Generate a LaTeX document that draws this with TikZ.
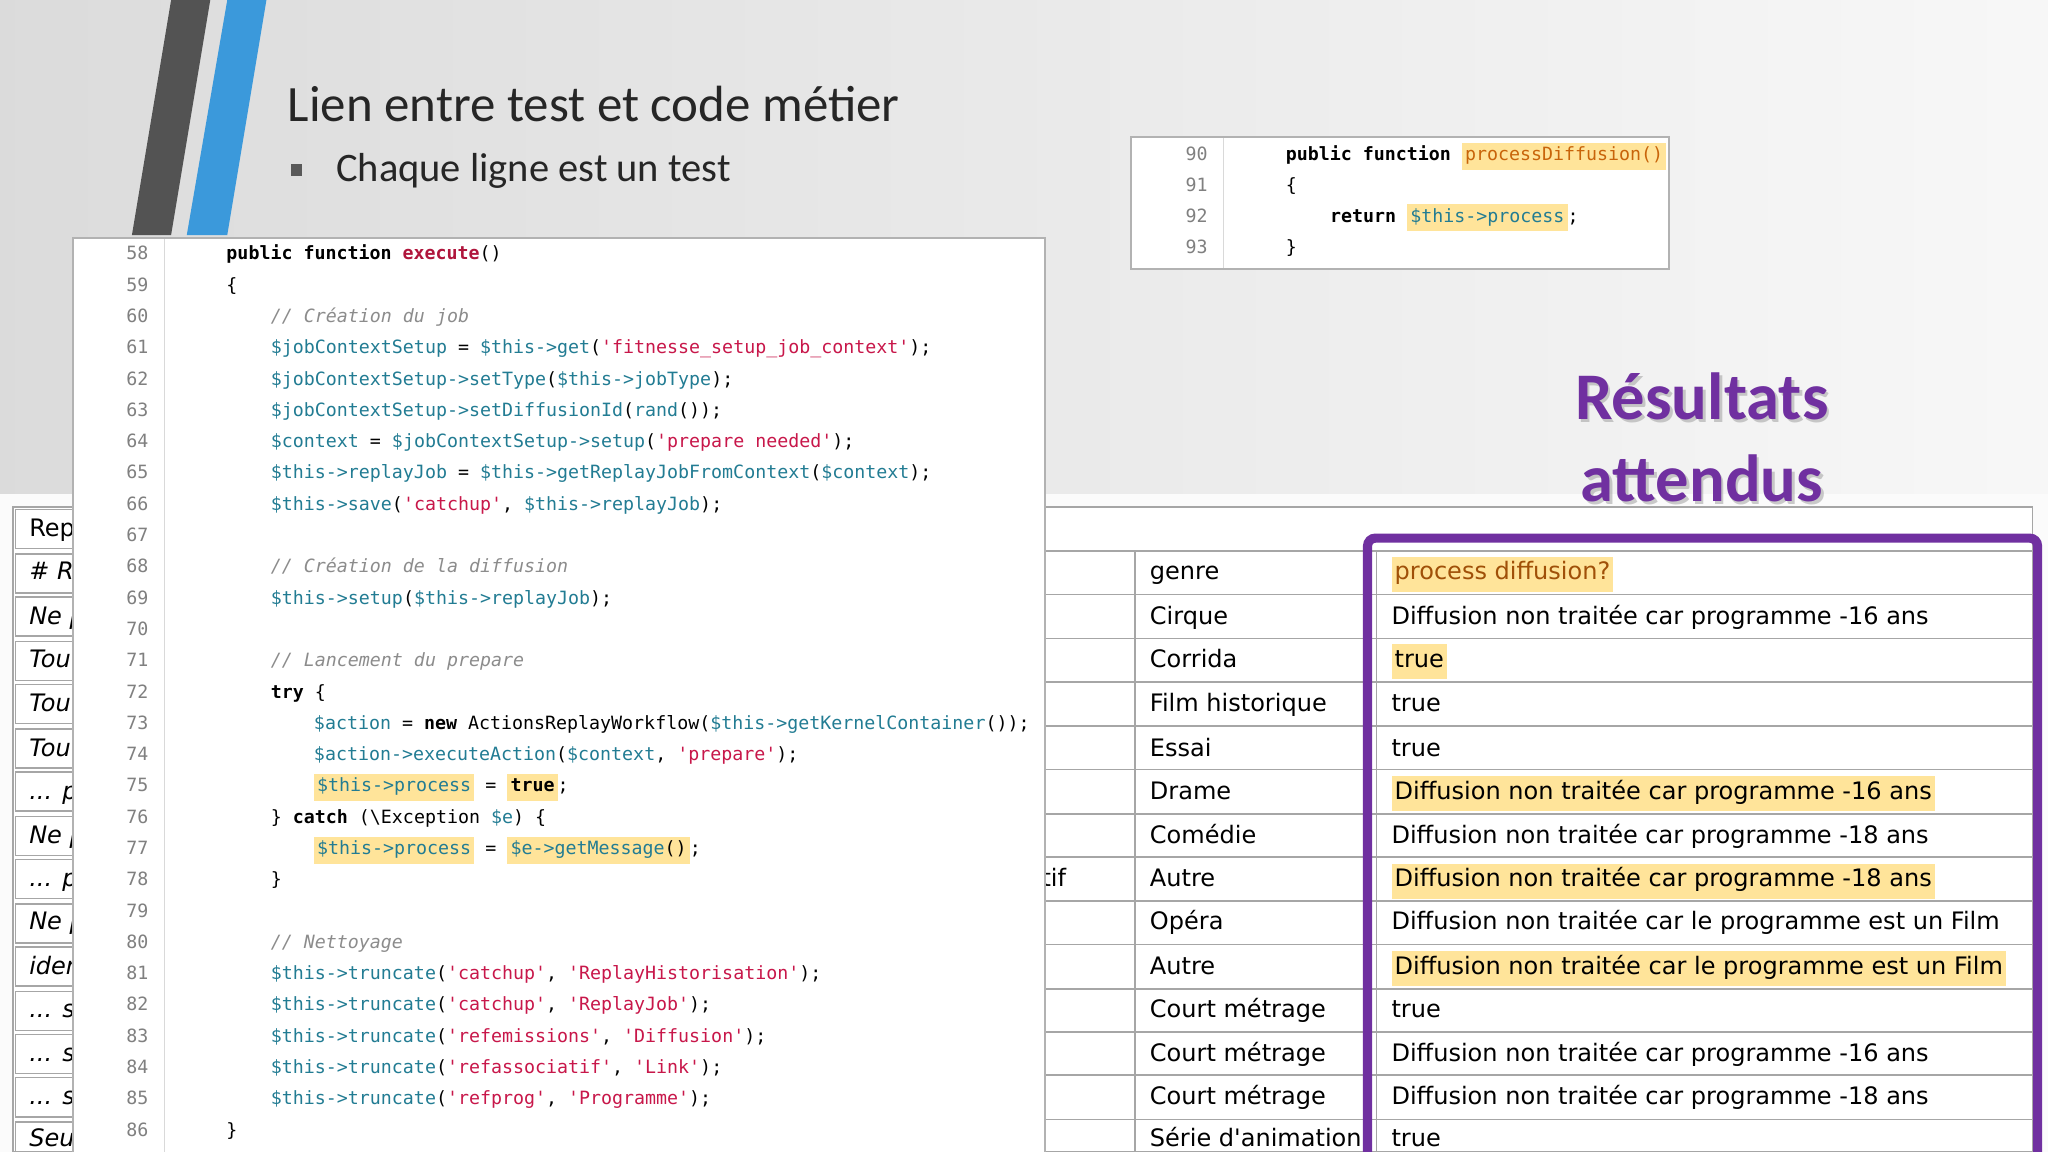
\documentclass[tikz,border=0pt]{standalone}
\usepackage{fontspec}
\setmainfont{DejaVu Sans}
\newfontfamily\codefont[Ligatures=TeXOff]{DejaVu Sans Mono}
\newfontfamily\slidefont{Carlito}
\newfontfamily\tabfont[Ligatures=TeXOff]{DejaVu Sans}
\definecolor{tealc}{HTML}{227C93}
\definecolor{strc}{HTML}{C8174A}
\definecolor{cmc}{HTML}{8C8C8C}
\definecolor{fnc}{HTML}{B0153C}
\definecolor{hly}{HTML}{FFE49A}
\definecolor{purp}{HTML}{7030A0}
\definecolor{orc}{HTML}{C8640A}
\newcommand\myvar[1]{\textcolor{tealc}{#1}}
\newcommand\mystr[1]{\textcolor{strc}{#1}}
\newcommand\mycmt[1]{\textcolor{cmc}{\itshape #1}}
\newcommand\mykw[1]{\textbf{#1}}
\newcommand\myhl[1]{{\setlength{\fboxsep}{1.2pt}\colorbox{hly}{\strut #1}}}
\newcommand\mycy[1]{199+(#1-58)*23.96}
\tikzset{
 codeln/.style={anchor=base west,inner sep=0pt,font=\codefont\fontsize{7}{8}\selectfont},
 lnum/.style={anchor=base east,inner sep=0pt,text=gray,font=\codefont\fontsize{7}{8}\selectfont},
 cell/.style={anchor=base west,inner sep=0pt,font=\tabfont\fontsize{9.2}{11}\selectfont},
 lcell/.style={anchor=base west,inner sep=0pt,font=\tabfont\itshape\fontsize{9.2}{11}\selectfont},
 grid/.style={draw=gray!70,line width=0.6pt},
}
\begin{document}
\begin{tikzpicture}[x=0.5pt,y=-0.5pt]
\useasboundingbox (0,0) rectangle (1568,882);
\shade[left color=gray!28,right color=gray!6] (0,0) rectangle (1568,378);
\fill[white!97!gray] (0,378) rectangle (1568,882);
\fill[gray!20!black!75] (131,0) -- (161,0) -- (131,180) -- (101,180) -- cycle;
\fill[cyan!70!blue!80] (174,0) -- (204,0) -- (174,180) -- (143,180) -- cycle;
\node[anchor=west,inner sep=0pt,font=\slidefont\fontsize{19.5}{22}\selectfont,text=black!85] (title) at (220,80) {Lien entre test et code métier};
\node[fill=gray!70!black,minimum size=4.5pt,inner sep=0pt] (bul) at (227,130) {};
\node[anchor=west,inner sep=0pt,font=\slidefont\fontsize{15.5}{17}\selectfont,text=black!85] (sub) at (257,131) {Chaque ligne est un test};
\node[align=center,font=\slidefont\bfseries\fontsize{25.5}{31.5}\selectfont,text=black!40,opacity=0.5] (resS) at (1305,337) {Résultats\\attendus};
\node[align=center,font=\slidefont\bfseries\fontsize{25.5}{31.5}\selectfont,text=purp] (res) at (1303,335) {Résultats\\attendus};
\draw[grid,fill=white] (10,388) rectangle (1556,882);
\draw[grid] (800,422) -- (1556,422);
\foreach \y in {455,489,522,556,589,623,656,690,723,757,790,823,857}{\draw[grid] (800,\y) -- (1556,\y);}
\draw[grid] (869,422) -- (869,882);
\draw[grid] (1054,422) -- (1054,882);
\foreach \y in {388,422,455,489,522,556,589,623,656,690,723,757,790,823,857}{
 \draw[grid] (12,\y+2) rectangle (60,\y+32);}
\node[cell] (L0) at (22,411) {Rep};
\node[lcell] (L1) at (22,444) {\# R};
\node[lcell] (L2) at (22,478) {Ne p};
\node[lcell] (L3) at (22,511) {Tou};
\node[lcell] (L4) at (22,545) {Tou};
\node[lcell] (L5) at (22,579) {Tou};
\node[lcell] (L6) at (22,612) {... p};
\node[lcell] (L7) at (22,646) {Ne p};
\node[lcell] (L8) at (22,679) {... p};
\node[lcell] (L9) at (22,712) {Ne p};
\node[lcell] (L10) at (22,746) {iden};
\node[lcell] (L11) at (22,779) {... s};
\node[lcell] (L12) at (22,813) {... s};
\node[lcell] (L13) at (22,846) {... s};
\node[lcell] (L14) at (22,878) {Seu};
\node[cell] (tif) at (797,679) {tif};
\foreach \y/\g/\v [count=\i] in {
444/genre/\myhl{\textcolor{orc!80!black}{process diffusion?}},
478/Cirque/Diffusion non traitée car programme -16 ans,
511/Corrida/\myhl{true},
545/Film historique/true,
579/Essai/true,
612/Drame/\myhl{Diffusion non traitée car programme -16 ans},
646/Comédie/Diffusion non traitée car programme -18 ans,
679/Autre/\myhl{Diffusion non traitée car programme -18 ans},
712/Opéra/Diffusion non traitée car le programme est un Film,
746/Autre/\myhl{Diffusion non traitée car le programme est un Film},
779/Court métrage/true,
813/Court métrage/Diffusion non traitée car programme -16 ans,
846/Court métrage/Diffusion non traitée car programme -18 ans,
878/Série d'animation/true}{
 \node[cell] (g\i) at (880,\y) {\g};
 \node[cell] (v\i) at (1065,\y) {\v};
}
\draw[purp,line width=3.5pt,rounded corners=3pt] (1047,886) -- (1047,412) -- (1560,412) -- (1560,886);
\draw[gray!60,fill=white,line width=0.8pt] (56,182) rectangle (800,884);
\draw[gray!30] (126,183) -- (126,884);
\foreach \n [count=\i from 0] in {58,...,86}{\node[lnum] (n\n) at (114,199+\i*23.96) {\n};}
\node[codeln] (c58) at (173,{\mycy{58}}) {\mykw{public function} \textcolor{fnc}{\mykw{execute}}()};
\node[codeln] (c59) at (173,{\mycy{59}}) {\{};
\node[codeln] (c60) at (207,{\mycy{60}}) {\mycmt{// Création du job}};
\node[codeln] (c61) at (207,{\mycy{61}}) {\myvar{\$jobContextSetup} = \myvar{\$this->get}(\mystr{'fitnesse\_setup\_job\_context'});};
\node[codeln] (c62) at (207,{\mycy{62}}) {\myvar{\$jobContextSetup->setType}(\myvar{\$this->jobType});};
\node[codeln] (c63) at (207,{\mycy{63}}) {\myvar{\$jobContextSetup->setDiffusionId}(\myvar{rand}());};
\node[codeln] (c64) at (207,{\mycy{64}}) {\myvar{\$context} = \myvar{\$jobContextSetup->setup}(\mystr{'prepare needed'});};
\node[codeln] (c65) at (207,{\mycy{65}}) {\myvar{\$this->replayJob} = \myvar{\$this->getReplayJobFromContext}(\myvar{\$context});};
\node[codeln] (c66) at (207,{\mycy{66}}) {\myvar{\$this->save}(\mystr{'catchup'}, \myvar{\$this->replayJob});};
\node[codeln] (c68) at (207,{\mycy{68}}) {\mycmt{// Création de la diffusion}};
\node[codeln] (c69) at (207,{\mycy{69}}) {\myvar{\$this->setup}(\myvar{\$this->replayJob});};
\node[codeln] (c71) at (207,{\mycy{71}}) {\mycmt{// Lancement du prepare}};
\node[codeln] (c72) at (207,{\mycy{72}}) {\mykw{try} \{};
\node[codeln] (c73) at (240,{\mycy{73}}) {\myvar{\$action} = \mykw{new} ActionsReplayWorkflow(\myvar{\$this->getKernelContainer}());};
\node[codeln] (c74) at (240,{\mycy{74}}) {\myvar{\$action->executeAction}(\myvar{\$context}, \mystr{'prepare'});};
\node[codeln] (c75) at (240,{\mycy{75}}) {\myhl{\myvar{\$this->process}} = \myhl{\mykw{true}};};
\node[codeln] (c76) at (207,{\mycy{76}}) {\} \mykw{catch} (\textbackslash Exception \myvar{\$e}) \{};
\node[codeln] (c77) at (240,{\mycy{77}}) {\myhl{\myvar{\$this->process}} = \myhl{\myvar{\$e->getMessage}()};};
\node[codeln] (c78) at (207,{\mycy{78}}) {\}};
\node[codeln] (c80) at (207,{\mycy{80}}) {\mycmt{// Nettoyage}};
\node[codeln] (c81) at (207,{\mycy{81}}) {\myvar{\$this->truncate}(\mystr{'catchup'}, \mystr{'ReplayHistorisation'});};
\node[codeln] (c82) at (207,{\mycy{82}}) {\myvar{\$this->truncate}(\mystr{'catchup'}, \mystr{'ReplayJob'});};
\node[codeln] (c83) at (207,{\mycy{83}}) {\myvar{\$this->truncate}(\mystr{'refemissions'}, \mystr{'Diffusion'});};
\node[codeln] (c84) at (207,{\mycy{84}}) {\myvar{\$this->truncate}(\mystr{'refassociatif'}, \mystr{'Link'});};
\node[codeln] (c85) at (207,{\mycy{85}}) {\myvar{\$this->truncate}(\mystr{'refprog'}, \mystr{'Programme'});};
\node[codeln] (c86) at (173,{\mycy{86}}) {\}};
\draw[gray!60,fill=white,line width=0.8pt] (866,105) rectangle (1278,206);
\draw[gray!30] (937,106) -- (937,205);
\foreach \n/\y in {90/123,91/147,92/170,93/194}{\node[lnum] (m\n) at (925,\y) {\n};}
\node[codeln] (d90) at (984,123) {\mykw{public function} \myhl{\textcolor{orc}{processDiffusion()}}};
\node[codeln] (d91) at (984,147) {\{};
\node[codeln] (d92) at (1018,170) {\mykw{return} \myhl{\myvar{\$this->process}};};
\node[codeln] (d93) at (984,194) {\}};
\end{tikzpicture}
\end{document}
